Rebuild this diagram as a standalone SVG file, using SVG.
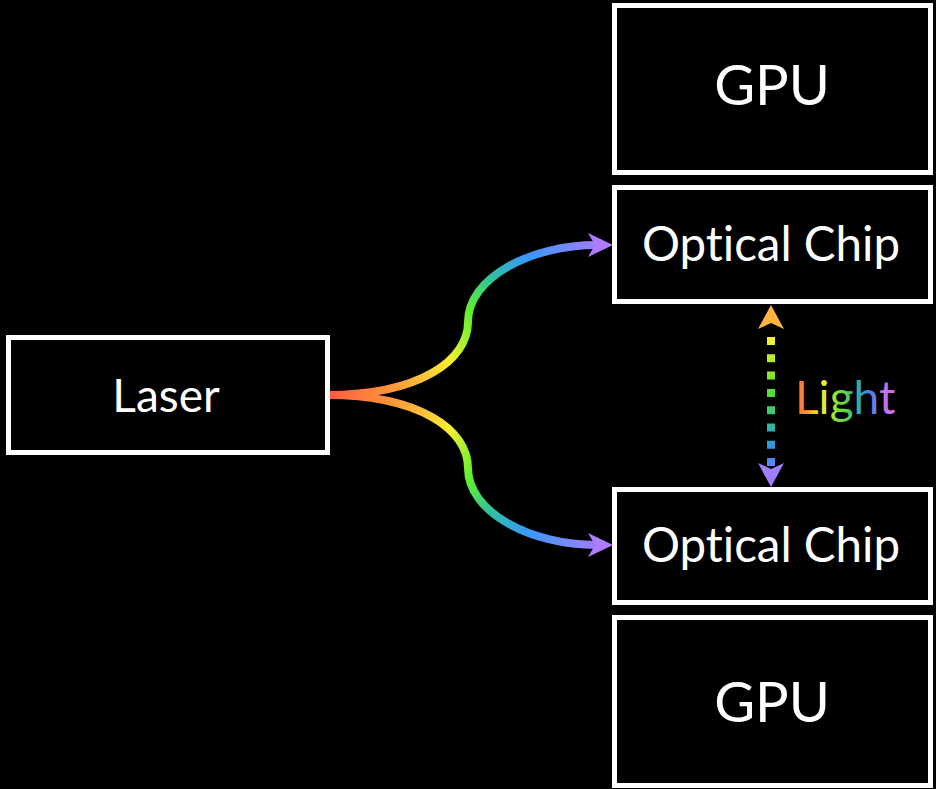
<svg xmlns="http://www.w3.org/2000/svg" width="936" height="789" viewBox="0 0 936 789">
<style>
.box{fill:#000;stroke:#fff;stroke-width:5}
.lbl{font-family:Lato,"Open Sans","Liberation Sans",sans-serif;fill:#fff;text-anchor:middle;font-variant-ligatures:none}
.fiber{fill:none;stroke-width:8;stroke-linecap:butt}
</style>
<defs>
<linearGradient id="gTop" gradientUnits="userSpaceOnUse" x1="327" y1="395" x2="612" y2="245">
<stop offset="0" stop-color="#ff5a40"/><stop offset="0.2" stop-color="#ff9a3a"/><stop offset="0.39" stop-color="#f8f030"/><stop offset="0.51" stop-color="#60f030"/><stop offset="0.62" stop-color="#30c0a0"/><stop offset="0.75" stop-color="#3898f8"/><stop offset="1" stop-color="#b478ff"/>
</linearGradient>
<linearGradient id="gBot" gradientUnits="userSpaceOnUse" x1="327" y1="395" x2="612" y2="545">
<stop offset="0" stop-color="#ff5a40"/><stop offset="0.2" stop-color="#ff9a3a"/><stop offset="0.39" stop-color="#f8f030"/><stop offset="0.51" stop-color="#60f030"/><stop offset="0.62" stop-color="#30c0a0"/><stop offset="0.75" stop-color="#3898f8"/><stop offset="1" stop-color="#b478ff"/>
</linearGradient>
<linearGradient id="gDot" gradientUnits="userSpaceOnUse" x1="0" y1="305" x2="0" y2="487">
<stop offset="0" stop-color="#ffb040"/><stop offset="0.2" stop-color="#f0f030"/><stop offset="0.48" stop-color="#50e030"/><stop offset="0.69" stop-color="#30b0b0"/><stop offset="0.8" stop-color="#3090f0"/><stop offset="1" stop-color="#a070ff"/>
</linearGradient>
<linearGradient id="gLight" gradientUnits="userSpaceOnUse" x1="795" y1="0" x2="895" y2="0">
<stop offset="0" stop-color="#ff5a3c"/><stop offset="0.15" stop-color="#ffb030"/><stop offset="0.27" stop-color="#f0f030"/><stop offset="0.45" stop-color="#70e030"/><stop offset="0.62" stop-color="#30b0a0"/><stop offset="0.75" stop-color="#4080f0"/><stop offset="0.88" stop-color="#c070f0"/><stop offset="1" stop-color="#c070f0"/>
</linearGradient>
<marker id="arPurple" markerUnits="userSpaceOnUse" markerWidth="26" markerHeight="24" refX="9" refY="12" orient="auto" overflow="visible">
<path d="M0,0 L25,12 L0,24 L7,12 Z" fill="#b07cff"/>
</marker>
<marker id="arOrange" markerUnits="userSpaceOnUse" markerWidth="26" markerHeight="26" refX="9" refY="13" orient="auto" overflow="visible">
<path d="M0,0 L24,13 L0,26 L6,13 Z" fill="#ffb440"/>
</marker>
<marker id="arViolet" markerUnits="userSpaceOnUse" markerWidth="26" markerHeight="26" refX="9" refY="13" orient="auto" overflow="visible">
<path d="M0,0 L24,13 L0,26 L6,13 Z" fill="#a07cff"/>
</marker>
</defs>
<rect width="936" height="789" fill="#000"/>
<g id="connectors">
<path class="fiber" stroke="url(#gTop)" d="M327,395 C420,395 468,360 468,322 C468,278 530,245 597,245" marker-end="url(#arPurple)"/>
<path class="fiber" stroke="url(#gBot)" d="M327,395 C420,395 468,430 468,468 C468,512 530,545 597,545" marker-end="url(#arPurple)"/>
<line x1="771" y1="337" x2="771" y2="466" stroke="url(#gDot)" stroke-width="8" stroke-dasharray="8 9.3"/>
<line x1="771" y1="330" x2="771" y2="320" stroke="none" marker-end="url(#arOrange)"/>
<line x1="771" y1="462" x2="771" y2="472" stroke="none" marker-end="url(#arViolet)"/>
<text x="795" y="414" font-family="Lato,'Open Sans','Liberation Sans',sans-serif" font-size="46" fill="url(#gLight)">Light</text>
</g>
<g id="gpu-top"><rect class="box" x="614.5" y="5.5" width="316" height="167"/><text class="lbl" x="772" y="105" font-size="56">GPU</text></g>
<g id="chip-top"><rect class="box" x="614.5" y="187.5" width="316" height="114"/><text class="lbl" x="771" y="261" font-size="47.5">Optical Chip</text></g>
<g id="laser"><rect class="box" x="8.5" y="337.5" width="319" height="115"/><text class="lbl" x="166" y="412" font-size="46">Laser</text></g>
<g id="chip-bottom"><rect class="box" x="614.5" y="489.5" width="316" height="113"/><text class="lbl" x="771" y="562" font-size="47.5">Optical Chip</text></g>
<g id="gpu-bottom"><rect class="box" x="614.5" y="617.5" width="316" height="168"/><text class="lbl" x="772" y="722" font-size="56">GPU</text></g>
</svg>
